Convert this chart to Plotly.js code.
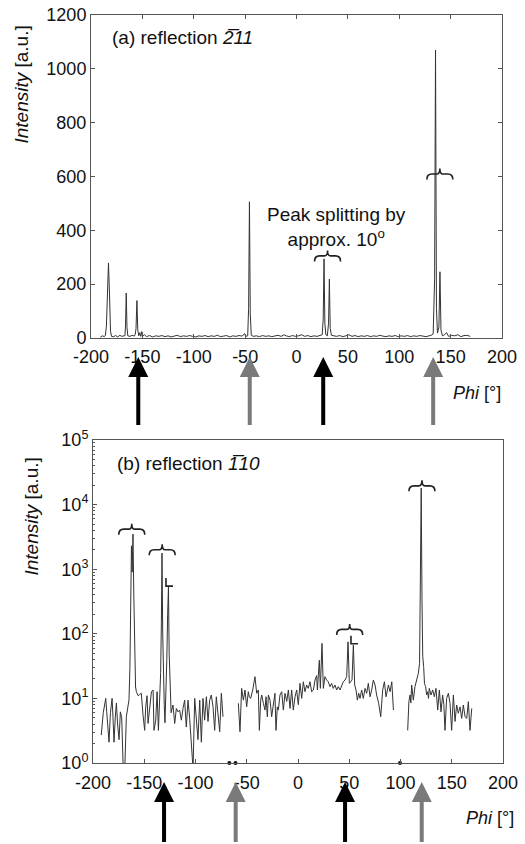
<!DOCTYPE html>
<html><head><meta charset="utf-8">
<script src="https://cdn.plot.ly/plotly-3.0.1.min.js"></script>
<style>html,body{margin:0;padding:0;background:#fff}#chart{width:525px;height:844px}</style>
</head><body><div id="chart"></div>
<script>
// ---------- panel (a): reflection -2 1 1 (linear) ----------
const phiA = [-191,-189,-187,-186,-185,-184,-183,-182,-181,-180,-178,-176,-174,-172,-170,-168,-167,-166.4,-165.7,-165,-164.2,-162,-160,-158,-157,-156.2,-155.3,-154.5,-153.5,-152.5,-151.5,-150.5,-149.5,-148,-146,-143,-140,-137,-134,-131,-128,-125,-122,-119,-116,-113,-110,-107,-104,-101,-98,-95,-92,-89,-86,-83,-80,-77,-74,-71,-68,-65,-62,-59,-56,-53,-50.5,-49.5,-47.5,-46.6,-45.8,-45,-44,-42,-39,-36,-33,-30,-27,-24,-21,-18,-15,-12,-10,-7,-4,-1,2,5,8,11,14,17,20,23,25,26,26.8,27.6,28.6,30,31.2,32,32.8,34,36,39,42,45,48,51,54,57,60,63,66,69,72,75,78,81,84,87,90,93,96,99,102,105,108,111,114,117,120,123,126,129,131,133,134.4,135.3,136.2,137.2,138.6,139.6,140.6,142,144,146,148,151,154,157,160,163,166,169];
const intA = [3,8,5,10,45,185,279,160,25,6,5,9,4,10,6,8,8,45,167,40,8,6,10,7,12,35,139,30,8,20,6,24,7,12,5,9,4,8,6,9,5,8,4,7,10,5,8,6,9,6,4,8,6,9,5,8,6,10,5,7,9,4,8,6,9,7,16,6,8,110,506,90,10,6,8,5,9,6,8,5,7,10,6,12,8,5,9,6,8,12,6,9,5,8,6,10,12,70,294,55,12,8,55,219,35,10,8,6,9,5,8,12,6,9,5,8,6,9,5,8,6,10,7,5,8,6,9,5,8,6,9,5,8,6,9,7,5,8,10,15,220,1070,110,18,40,246,30,8,12,20,6,10,8,12,5,9,10,6];

// ---------- panel (b): reflection -1 1 0 (log) ----------
const phiB1 = [-192,-190,-187.6,-186,-184.4,-183,-181.4,-180.5,-179.5,-178.3,-177.2,-176,-174.6,-173.3,-172,-170.5,-169,-167.5,-166,-164.9,-164,-163.3,-162.5,-161.8,-161,-160.2,-159.5,-158.5,-157.7,-156,-154.5,-152.9,-151.2,-149.6,-148.6,-147.3,-146.3,-144.7,-143,-141.4,-140.5,-138.8,-137.5,-136.2,-135,-134,-133.3,-132.7,-132,-131.3,-130.5,-129.8,-129,-128,-127.2,-126.4,-125.7,-124.8,-123.8,-122,-120.3,-118.7,-117.1,-115.5,-113.8,-112.2,-110.6,-109,-107.3,-105.7,-104.1,-102.4,-100.8,-99.2,-97.6,-95.9,-94.3,-92.7,-91.1,-89.4,-87.8,-86.2,-84.6,-82.9,-81.3,-79.7,-78,-76.4,-74.8,-73.2];
const intB1 = [2.7,6,10,4,2.1,6,10,5,2.1,5,8.5,4,2.3,6.2,5,0.8,0.8,5.2,7.5,9.5,30,300,2300,900,3500,400,40,15,12.7,11,11.5,12,5.5,3.2,7.4,11,4.1,7.9,12.7,13.5,3.2,4.6,12.7,3.2,13.5,25,150,1780,100,20,8,4.2,10,40,200,530,50,12,6,7.9,4.1,7,6.2,6.6,4.6,7,9.4,3.6,9.4,4.9,2.3,0.8,10,3.9,2.3,9.4,2.1,10,4.6,10.6,4.4,9.4,11.3,7.4,3.2,10.6,5.2,3.05,12,5.2];
const phiB2 = [-58.2,-56.6,-55,-53.3,-51.7,-50.1,-48.5,-47.5,-46.2,-44.2,-42,-40.3,-38.7,-37.7,-36.4,-35.4,-33.8,-32.2,-31.2,-29.9,-28.9,-27.3,-25.7,-24.1,-22.5,-21.5,-20.2,-19.2,-17.6,-15.9,-14.3,-12.7,-11,-9.4,-7.8,-6.2,-4.6,-2.9,-1.3,0.3,1.95,3.6,5.2,6.8,8.4,10,11.7,13.3,15,16.6,18.2,18.9,19.8,20.8,21.8,23.4,24.7,26.3,27.9,29.5,31.2,32.8,34.4,36.1,37.7,39.3,41,42.6,44.2,45.9,47.5,48.8,50.1,51.4,52.7,54,55.3,56.6,57.9,59.2,60.5,62.1,63.7,65.4,67,68.6,70.3,71.9,73.5,75.2,76.7,78.7,80.7,82.6,84.3,85.9,88.2,89.8,91.5,93.1];
const intB2 = [8.4,3.05,14.3,9.4,13.5,7.4,12.7,10.6,10,13.5,21.7,12,13.5,3.2,9.4,11.3,8.4,6.6,10.6,5.2,11.3,9.4,5.2,7.4,12,3.2,7.4,6.6,11.3,12.7,6.6,12,9,13.5,7,13.5,6.6,10.6,13.5,8,17.1,10,18.1,12.7,16.1,14.3,18.1,12.7,13.5,19.3,22.5,13.5,24,39,14.3,71,14.3,21.7,19.3,18.1,15.2,17.1,14.3,16.1,13.5,15.2,13.5,16.1,18.1,19.3,21.7,75,17.1,18.1,19.3,67,16.1,13.5,9.4,12,10,13.5,10,14.3,12,17.1,10.6,13.5,19.3,16.1,11.3,8.4,5.2,13.5,18.1,10.6,16.1,12.7,18.1,6.6];
const phiB3 = [107,108.2,109.3,110.1,110.9,111.7,112.5,114.1,115.8,117.4,118.6,119.4,120.2,121,121.7,122.6,123.4,124.5,125.5,126.5,127.3,128.1,129.8,131.4,133,134.6,136.3,137.9,139.5,141.1,142.3,143.4,145,146.7,148.3,149.9,151.6,153.2,154.8,156.4,158.1,159.7,161.3,163,164.6,166.2,167.8,169.5];
const intB3 = [3.2,9,11.3,8.5,16.1,10,9.4,15.2,19.3,24.4,35,300,18000,300,45,31,17,15.2,11.3,12.7,10,14.3,11.3,13.5,10.6,14.3,6.6,13.5,6.2,11.3,8,3.2,10,12,8.4,3.2,11.3,4.4,7.9,5.9,7.4,4.9,7.9,5.2,4.9,8.9,3.2,7];
const phiDots = [-67, -61, 99.5];
const intDots = [1, 1, 1];

// ---------- ticks / labels ----------
const xTicks = [-200,-150,-100,-50,0,50,100,150,200];
const xTickText = ['-200','-150','-100','-50','0','50','100','150','200'];
const yTicksA = [0,200,400,600,800,1000,1200];
const yTicksB = [1,10,100,1000,10000,100000];
const yTickTextB = ['10<sup>0</sup>','10<sup>1</sup>','10<sup>2</sup>','10<sup>3</sup>','10<sup>4</sup>','10<sup>5</sup>'];

// annotation markers (arrows, braces)
const arrowXA = [-154, -45.5, 26, 133];
const arrowXB = [-130.7, -60.8, 45.9, 120.7];
const arrowCol = ['#000000', '#7a7a7a', '#000000', '#7a7a7a'];
const braceA = [[30.2, 305], [139.5, 609]];
const braceB = [[-162.2, 4170], [-132.5, 2000], [50.4, 117], [120.9, 19500]];
const ellB = [[-125.9, 631], [54.6, 81]];

const FONT = 'Liberation Sans, Arial, Helvetica, sans-serif';
const lineCol = '#333333';
const axCol = '#555555';

const traces = [
  {x: phiA, y: intA, xaxis: 'x', yaxis: 'y', mode: 'lines', line: {color: lineCol, width: 1}},
  {x: phiB1, y: intB1, xaxis: 'x2', yaxis: 'y2', mode: 'lines', line: {color: lineCol, width: 1}},
  {x: phiB2, y: intB2, xaxis: 'x2', yaxis: 'y2', mode: 'lines', line: {color: lineCol, width: 1}},
  {x: phiB3, y: intB3, xaxis: 'x2', yaxis: 'y2', mode: 'lines', line: {color: lineCol, width: 1}},
  {x: phiDots, y: intDots, xaxis: 'x2', yaxis: 'y2', mode: 'markers', marker: {color: '#111', size: 4}, cliponaxis: false}
];

const tickFont = {family: FONT, size: 18, color: '#111'};
function xAx(dom, anchor, mirror, standoff) {
  return {domain: dom, anchor: anchor, range: [-200, 200], tickmode: 'array', tickvals: xTicks, ticktext: xTickText,
    ticks: 'inside', ticklen: 4, tickcolor: axCol, showline: true, linecolor: axCol, linewidth: 1,
    mirror: mirror, showgrid: false, zeroline: false, tickfont: tickFont, fixedrange: true,
    ticklabelstandoff: standoff};
}

const annotations = [];
const txt = (text, x, y, xa, opts) => Object.assign({text: text, xref: 'paper', yref: 'paper', x: x, y: y,
  xanchor: xa, yanchor: 'middle', showarrow: false, font: {family: FONT, size: 19, color: '#111'}}, opts || {});
annotations.push(txt('(a) reflection <i>2\u030511</i>', 0.046, 0.9693, 'left'));
annotations.push(txt('(b) reflection <i>1\u030510</i>', 0.058, 0.401, 'left'));
annotations.push(txt('Peak splitting by<br>approx. 10<sup>o</sup>', 0.597, 0.7172, 'center', {align: 'center'}));
annotations.push(txt('<i>Intensity</i> [a.u.]', -0.1675, 0.907, 'center', {textangle: -90}));
annotations.push(txt('<i>Intensity</i> [a.u.]', -0.1432, 0.3295, 'center', {textangle: -90}));
annotations.push(txt('<i>Phi</i> [°]', 1.0, 0.4947, 'right', {font: {family: FONT, size: 18, color: '#111'}}));
annotations.push(txt('<i>Phi</i> [°]', 1.0316, -0.0735, 'right', {font: {family: FONT, size: 18, color: '#111'}}));
arrowXA.forEach((x, i) => annotations.push({xref: 'x', yref: 'paper', x: x, y: 0.5428, ax: 0, ay: 70, text: ' ',
  font: {size: 1}, showarrow: true, arrowhead: 2, arrowwidth: 4, arrowsize: 1, arrowcolor: arrowCol[i], standoff: 0}));
arrowXB.forEach((x, i) => annotations.push({xref: 'x2', yref: 'paper', x: x, y: -0.0254, ax: 0, ay: 72, text: ' ',
  font: {size: 1}, showarrow: true, arrowhead: 2, arrowwidth: 4, arrowsize: 1, arrowcolor: arrowCol[i], standoff: 0}));

const bracePath = 'M-13,-5.5 Q-13,0 -8,0 L-3,0 Q0,0 0,5.5 Q0,0 3,0 L8,0 Q13,0 13,-5.5';
const ellPath = 'M-3,4 L-3,-4 L4,-4';
const shapes = [];
braceA.forEach(b => shapes.push({type: 'path', xref: 'x', yref: 'y', xsizemode: 'pixel', ysizemode: 'pixel',
  xanchor: b[0], yanchor: b[1], path: bracePath, line: {color: '#222', width: 1.6}}));
braceB.forEach(b => shapes.push({type: 'path', xref: 'x2', yref: 'y2', xsizemode: 'pixel', ysizemode: 'pixel',
  xanchor: b[0], yanchor: b[1], path: bracePath, line: {color: '#222', width: 1.6}}));
ellB.forEach(b => shapes.push({type: 'path', xref: 'x2', yref: 'y2', xsizemode: 'pixel', ysizemode: 'pixel',
  xanchor: b[0], yanchor: b[1], path: ellPath, line: {color: '#222', width: 1.6}}));

const layout = {
  width: 525, height: 844, showlegend: false,
  paper_bgcolor: '#fff', plot_bgcolor: '#fff',
  margin: {l: 91, r: 22, t: 15, b: 81},
  font: {family: FONT, color: '#111'},
  xaxis: xAx([0, 0.9976], 'y', 'ticks', 2),
  yaxis: {domain: [0.5682, 1], anchor: 'x', range: [0, 1200], tickmode: 'array', tickvals: yTicksA,
    ticks: 'inside', ticklen: 4, tickcolor: axCol, showline: true, linecolor: axCol, linewidth: 1, mirror: 'ticks',
    showgrid: false, zeroline: false, tickfont: tickFont, fixedrange: true},
  xaxis2: xAx([0.0049, 1], 'y2', true, 3),
  yaxis2: {domain: [0, 0.4318], anchor: 'x2', type: 'log', range: [0, 5], tickmode: 'array', tickvals: yTicksB,
    ticktext: yTickTextB, ticks: 'inside', ticklen: 4, tickcolor: axCol, showline: true, linecolor: axCol,
    linewidth: 1, mirror: true, showgrid: false, zeroline: false, tickfont: tickFont, fixedrange: true,
    minor: {ticks: 'inside', ticklen: 2, tickcolor: axCol, dtick: 'D1'}},
  annotations: annotations,
  shapes: shapes
};

Plotly.newPlot('chart', traces, layout, {displayModeBar: false, staticPlot: true});
</script>
</body></html>
